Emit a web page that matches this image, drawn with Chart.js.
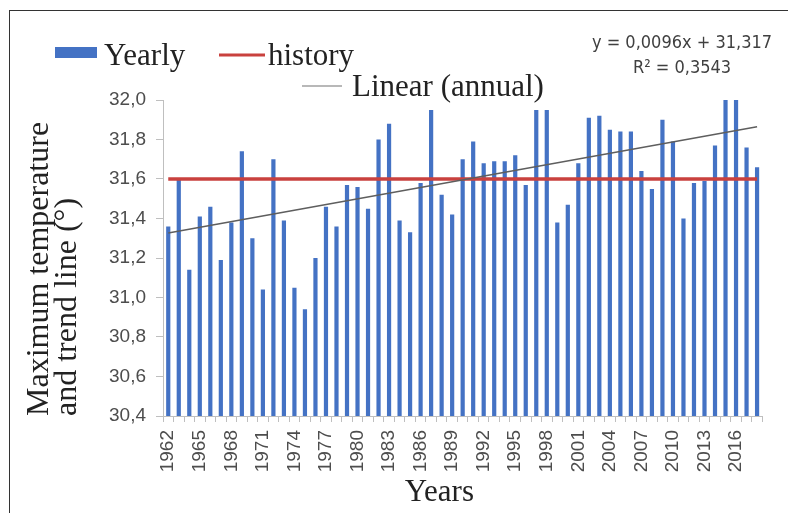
<!DOCTYPE html>
<html>
<head>
<meta charset="utf-8">
<script src="https://cdn.jsdelivr.net/npm/chart.js@4/dist/chart.umd.min.js"></script>
<style>
  body { margin: 0; background: #fff; }
  #wrap { position: relative; width: 788px; height: 513px; }
  #frame { position: absolute; left: 9px; top: 10px; right: 0; bottom: 0;
           border-left: 1.5px solid #333; border-top: 1.5px solid #333; pointer-events: none; }
</style>
</head>
<body>
<div id="wrap">
  <canvas id="grafico"></canvas>
  <div id="frame"></div>
</div>
<script>
const years = ['1962','1963','1964','1965','1966','1967','1968','1969','1970','1971',
  '1972','1973','1974','1975','1976','1977','1978','1979','1980','1981',
  '1982','1983','1984','1985','1986','1987','1988','1989','1990','1991',
  '1992','1993','1994','1995','1996','1997','1998','1999','2000','2001',
  '2002','2003','2004','2005','2006','2007','2008','2009','2010','2011',
  '2012','2013','2014','2015','2016','2017','2018'];

const yearly = [
  31.36, 31.60, 31.14, 31.41, 31.46, 31.19, 31.38, 31.74, 31.30, 31.04,
  31.70, 31.39, 31.05, 30.94, 31.20, 31.46, 31.36, 31.57, 31.56, 31.45,
  31.80, 31.88, 31.39, 31.33, 31.58, 31.95, 31.52, 31.42, 31.70, 31.79,
  31.68, 31.69, 31.69, 31.72, 31.57, 31.95, 31.95, 31.38, 31.47, 31.68,
  31.91, 31.92, 31.85, 31.84, 31.84, 31.64, 31.55, 31.90, 31.79, 31.40,
  31.58, 31.59, 31.77, 32.00, 32.00, 31.76, 31.66
];

// historic maximum (reference line)
const historyMax = 31.6;

// linear trend: y = 0,0096x + 31,317 (x = 1 for the first year)
const trendSlope = 0.0096;
const trendIntercept = 31.317;
const trendR2 = '0,3543';

const yTicks = [30.4, 30.6, 30.8, 31.0, 31.2, 31.4, 31.6, 31.8, 32.0];

const last = years.length - 1;
const history = years.map(() => historyMax);
const trend = years.map((_, i) => (i === 0 || i === last) ? trendIntercept + trendSlope * (i + 1) : null);

const comma = (v) => String(v).replace('.', ',');
const serif = '"Liberation Serif", "Times New Roman", serif';
const sans = '"Liberation Sans", Arial, sans-serif';
const narrow = '"Liberation Sans Narrow", "DejaVu Sans Condensed", sans-serif';

// legend + trend equation drawn at fixed spots like the original sheet
const extras = {
  id: 'extras',
  afterDraw(chart) {
    const ctx = chart.ctx;
    const ds = chart.data.datasets;
    ctx.save();
    ctx.fillStyle = ds[0].backgroundColor;
    ctx.fillRect(55, 47, 42, 11);

    ctx.lineWidth = 3;
    ctx.strokeStyle = ds[1].borderColor;
    ctx.beginPath(); ctx.moveTo(219, 55); ctx.lineTo(265, 55); ctx.stroke();

    ctx.lineWidth = 1.5;
    ctx.strokeStyle = '#a0a0a0';
    ctx.beginPath(); ctx.moveTo(302, 86); ctx.lineTo(342, 86); ctx.stroke();

    ctx.fillStyle = '#222';
    ctx.font = '31px ' + serif;
    ctx.textBaseline = 'alphabetic';
    ctx.textAlign = 'left';
    ctx.fillText(ds[0].label, 104, 65);
    ctx.fillText(ds[1].label, 268, 65);
    ctx.fillText(ds[2].label, 352, 96);

    ctx.fillStyle = '#404040';
    ctx.font = '18px ' + narrow;
    ctx.textAlign = 'center';
    ctx.textBaseline = 'middle';
    ctx.fillText('y = ' + comma(trendSlope) + 'x + ' + comma(trendIntercept), 682, 43);
    ctx.fillText('R\u00B2 = ' + trendR2, 682, 68);
    ctx.restore();
  }
};

new Chart(document.getElementById('grafico'), {
  type: 'bar',
  data: {
    labels: years,
    datasets: [{
      label: 'Yearly',
      data: yearly,
      backgroundColor: '#4472c4',
      barPercentage: 0.4,
      categoryPercentage: 1,
      order: 3
    }, {
      type: 'line',
      label: 'history',
      data: history,
      borderColor: '#c9413e',
      borderWidth: 3.5,
      pointRadius: 0,
      order: 2
    }, {
      type: 'line',
      label: 'Linear (annual)',
      data: trend,
      borderColor: '#5e5e5e',
      borderWidth: 1.5,
      pointRadius: 0,
      spanGaps: true,
      order: 1
    }]
  },
  options: {
    responsive: true,
    maintainAspectRatio: false,
    animation: false,
    layout: { padding: { left: 10, top: 100, right: 15, bottom: 0 } },
    plugins: { legend: { display: false }, tooltip: { enabled: false } },
    scales: {
      x: {
        grid: { drawOnChartArea: false, tickLength: 6, color: '#bfbfbf' },
        border: { color: '#bfbfbf' },
        ticks: {
          autoSkip: false,
          minRotation: 90,
          maxRotation: 90,
          padding: 8,
          color: '#4d4d4d',
          font: { family: sans, size: 19 },
          callback: (v, i) => i % 3 === 0 ? years[i] : ''
        },
        title: {
          display: true,
          text: 'Years      ',
          color: '#222',
          font: { family: serif, size: 31, lineHeight: 1 },
          padding: { top: 0, bottom: 5 }
        },
        afterFit: (s) => { s.height = 97; }
      },
      y: {
        min: 30.4,
        max: 32.0,
        afterBuildTicks: (s) => { s.ticks = yTicks.map(v => ({ value: v })); },
        grid: { drawOnChartArea: false, tickLength: 7, color: '#bfbfbf' },
        border: { color: '#bfbfbf' },
        ticks: {
          padding: 10,
          color: '#4d4d4d',
          font: { family: sans, size: 19 },
          callback: (v) => v.toFixed(1).replace('.', ',')
        },
        title: {
          display: true,
          text: ['Maximum temperature', 'and trend line (\u00B0)'],
          align: 'start',
          color: '#222',
          font: { family: serif, size: 32, lineHeight: 0.875 },
          padding: { top: 16, bottom: 0 }
        },
        afterFit: (s) => { s.width = 153; }
      }
    }
  },
  plugins: [extras]
});
</script>
</body>
</html>
